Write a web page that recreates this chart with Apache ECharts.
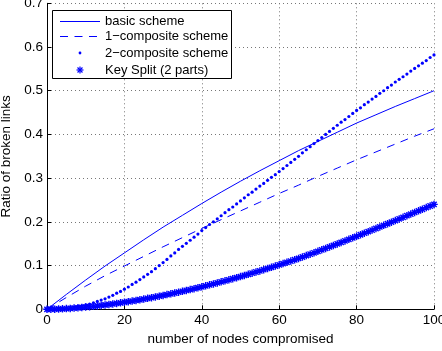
<!DOCTYPE html>
<html>
<head>
<meta charset="utf-8">
<script src="https://cdn.jsdelivr.net/npm/echarts@6/dist/echarts.min.js"></script>
<style>
  html, body { margin: 0; padding: 0; background: #fff; }
  #chart { width: 442px; height: 351px; }
</style>
</head>
<body>
<div id="chart"></div>
<script>
// Ratio of broken links vs. number of compromised nodes
const seriesNames = ['basic scheme', '1\u2212composite scheme', '2\u2212composite scheme', 'Key Split (2 parts)'];

// Line curves, sampled every 5 nodes
const xCoarse = [0, 5, 10, 15, 20, 25, 30, 35, 40, 45, 50, 55, 60, 65, 70, 75, 80, 85, 90, 95, 100];
const basicScheme = [0, 0.034, 0.067, 0.099, 0.129, 0.159, 0.188, 0.215, 0.242, 0.268, 0.293,
  0.317, 0.340, 0.363, 0.384, 0.405, 0.426, 0.445, 0.464, 0.482, 0.500];
const composite1 = [0, 0.027, 0.053, 0.077, 0.099, 0.121, 0.143, 0.164, 0.185, 0.205, 0.225,
  0.245, 0.265, 0.284, 0.304, 0.323, 0.342, 0.360, 0.378, 0.396, 0.413];

// Marker series, one point per node count 0..100
const composite2 = [
  0.000, 0.000, 0.000, 0.001, 0.002, 0.003, 0.004, 0.005, 0.007, 0.008,
  0.010, 0.012, 0.015, 0.018, 0.021, 0.024, 0.028, 0.032, 0.037, 0.041,
  0.046, 0.051, 0.057, 0.062, 0.068, 0.074, 0.080, 0.086, 0.093, 0.100,
  0.107, 0.114, 0.122, 0.129, 0.137, 0.144, 0.151, 0.158, 0.165, 0.172,
  0.180, 0.187, 0.194, 0.200, 0.207, 0.214, 0.221, 0.228, 0.234, 0.241,
  0.248, 0.255, 0.262, 0.268, 0.275, 0.282, 0.288, 0.295, 0.302, 0.308,
  0.315, 0.322, 0.329, 0.336, 0.343, 0.350, 0.358, 0.365, 0.372, 0.379,
  0.386, 0.393, 0.400, 0.407, 0.414, 0.421, 0.428, 0.434, 0.441, 0.448,
  0.455, 0.461, 0.468, 0.474, 0.481, 0.487, 0.494, 0.500, 0.507, 0.513,
  0.520, 0.526, 0.532, 0.538, 0.545, 0.551, 0.557, 0.563, 0.569, 0.576,
  0.582
];
const keySplit = [
  0.0000, 0.0001, 0.0003, 0.0007, 0.0011, 0.0016, 0.0021, 0.0028, 0.0034, 0.0042,
  0.0050, 0.0059, 0.0068, 0.0078, 0.0088, 0.0099, 0.0110, 0.0122, 0.0134, 0.0147,
  0.0161, 0.0175, 0.0189, 0.0204, 0.0219, 0.0234, 0.0250, 0.0266, 0.0283, 0.0300,
  0.0318, 0.0336, 0.0354, 0.0373, 0.0392, 0.0411, 0.0431, 0.0451, 0.0472, 0.0493,
  0.0515, 0.0537, 0.0559, 0.0581, 0.0604, 0.0628, 0.0651, 0.0675, 0.0700, 0.0724,
  0.0749, 0.0775, 0.0800, 0.0826, 0.0853, 0.0879, 0.0906, 0.0934, 0.0961, 0.0989,
  0.1018, 0.1046, 0.1075, 0.1104, 0.1134, 0.1164, 0.1196, 0.1228, 0.1260, 0.1293,
  0.1326, 0.1360, 0.1393, 0.1427, 0.1461, 0.1495, 0.1530, 0.1565, 0.1600, 0.1635,
  0.1670, 0.1705, 0.1741, 0.1776, 0.1812, 0.1848, 0.1884, 0.1920, 0.1957, 0.1993,
  0.2030, 0.2067, 0.2104, 0.2141, 0.2178, 0.2215, 0.2252, 0.2289, 0.2326, 0.2363,
  0.2400
];

const xTicks = [0, 20, 40, 60, 80, 100];
const yTicks = [0, 0.1, 0.2, 0.3, 0.4, 0.5, 0.6, 0.7];

const BLUE = '#0000ff';
const FONT = '"Liberation Sans", Arial, Helvetica, sans-serif';
const ASTERISK = 'path://M5,0L5,10M0,5L10,5M1.46,1.46L8.54,8.54M1.46,8.54L8.54,1.46';

const pairs = (xs, ys) => xs.map((x, i) => [x, ys[i]]);
const nodeCounts = composite2.map((_, i) => i);

const chart = echarts.init(document.getElementById('chart'), null, { renderer: 'canvas' });

// Legend drawn as a boxed key in the upper-left corner
function legendGraphics() {
  const lx0 = 60, lx1 = 100, tx = 105;
  const rows = [21.5, 36.5, 53, 70];
  const els = [
    { type: 'rect', shape: { x: 52.5, y: 10.5, width: 179, height: 68 },
      style: { fill: '#fff', stroke: '#000', lineWidth: 1 }, z: 100 },
    { type: 'line', shape: { x1: lx0, y1: 21.5, x2: lx1, y2: 21.5 },
      style: { stroke: BLUE, lineWidth: 1 }, z: 101 },
    { type: 'line', shape: { x1: lx0, y1: 36.5, x2: lx1, y2: 36.5 },
      style: { stroke: BLUE, lineWidth: 1, lineDash: [8, 6.5] }, z: 101 },
    { type: 'circle', shape: { cx: 80, cy: 53, r: 1.4 },
      style: { fill: BLUE }, z: 101 }
  ];
  const cx = 80, cy = 70, r = 3.5, d = r * 0.707;
  [[cx, cy - r, cx, cy + r], [cx - r, cy, cx + r, cy],
   [cx - d, cy - d, cx + d, cy + d], [cx - d, cy + d, cx + d, cy - d]].forEach(s => {
    els.push({ type: 'line', shape: { x1: s[0], y1: s[1], x2: s[2], y2: s[3] },
      style: { stroke: BLUE, lineWidth: 1.2 }, z: 101 });
  });
  seriesNames.forEach((name, i) => {
    els.push({ type: 'text', x: tx, y: rows[i],
      style: { text: name, fill: '#000', font: '13px ' + FONT, textVerticalAlign: 'middle' }, z: 101 });
  });
  return els;
}

const axisCommon = {
  axisLine: { show: true, onZero: false, lineStyle: { color: '#000', width: 1 } },
  axisTick: { show: true, inside: true, length: 4, lineStyle: { color: '#000' } },
  axisLabel: { color: '#000', fontSize: 13.5, fontFamily: FONT, margin: 4 },
  splitLine: { show: true, lineStyle: { color: '#777', width: 1, type: [1, 3] } },
  nameTextStyle: { color: '#000', fontSize: 13.5, fontFamily: FONT }
};

chart.setOption({
  animation: false,
  backgroundColor: '#fff',
  grid: { left: 47, right: 8, top: 3.3, bottom: 41.7, containLabel: false, outerBoundsMode: 'none' },
  xAxis: Object.assign({}, axisCommon, {
    type: 'value', min: xTicks[0], max: xTicks[xTicks.length - 1], interval: 20,
    name: 'number of nodes compromised', nameLocation: 'middle', nameGap: 15
  }),
  yAxis: Object.assign({}, axisCommon, {
    type: 'value', min: yTicks[0], max: yTicks[yTicks.length - 1], interval: 0.1,
    name: 'Ratio of broken links', nameLocation: 'middle', nameGap: 22,
    axisLabel: Object.assign({}, axisCommon.axisLabel, {
      formatter: v => (Math.round(v * 10) / 10).toString()
    })
  }),
  series: [
    {
      name: seriesNames[0], type: 'line', data: pairs(xCoarse, basicScheme),
      showSymbol: false, lineStyle: { color: BLUE, width: 1 }, z: 2
    },
    {
      name: seriesNames[1], type: 'line', data: pairs(xCoarse, composite1),
      showSymbol: false, lineStyle: { color: BLUE, width: 1, type: [8, 6.5] }, z: 2
    },
    {
      name: seriesNames[2], type: 'line', data: pairs(nodeCounts, composite2),
      symbol: 'circle', symbolSize: 3.2, showSymbol: true, clip: false,
      itemStyle: { color: BLUE }, lineStyle: { width: 0, opacity: 0 }, z: 3
    },
    {
      name: seriesNames[3], type: 'line', data: pairs(nodeCounts, keySplit),
      symbol: ASTERISK, symbolSize: 7.5, showSymbol: true, clip: false,
      itemStyle: { color: BLUE, borderColor: BLUE, borderWidth: 1.4 },
      lineStyle: { width: 0, opacity: 0 }, z: 4
    }
  ],
  graphic: legendGraphics()
});
</script>
</body>
</html>
